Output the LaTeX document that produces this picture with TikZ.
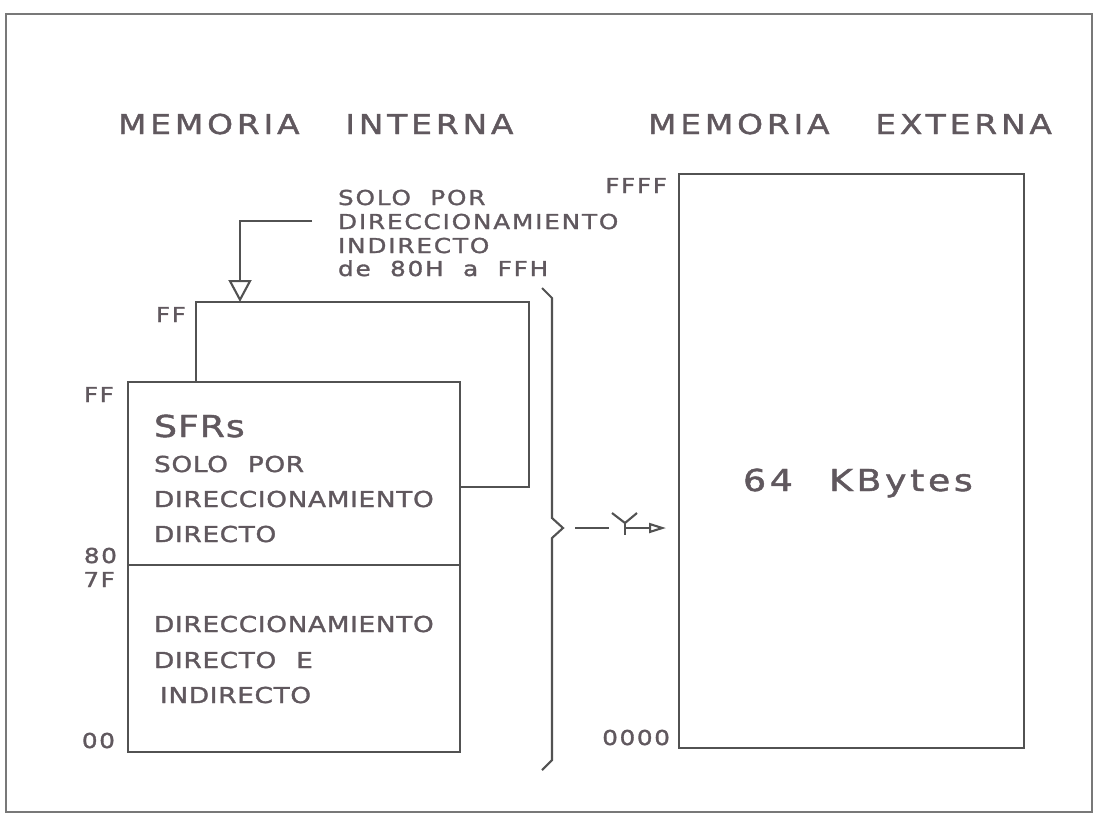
\documentclass[tikz,border=0pt]{standalone}
\usepackage{fontspec}
\setmainfont{DejaVu Sans}
\usepackage{tikz}
\usetikzlibrary{positioning,arrows.meta}
\definecolor{InkGray}{RGB}{96,88,94}
\definecolor{LineGray}{RGB}{82,82,82}
\definecolor{FrameGray}{RGB}{120,120,120}
\newfontfamily\headfont[FakeStretch=1.2,FakeBold=1.5,LetterSpace=14,WordSpace=3.2]{DejaVu Sans}
\newfontfamily\cellfont[FakeStretch=1.2,FakeBold=1.5,LetterSpace=3,WordSpace=2.2]{DejaVu Sans}
\newfontfamily\notefont[FakeStretch=1.2,FakeBold=1.5,LetterSpace=9,WordSpace=2]{DejaVu Sans}
\newfontfamily\addrfont[FakeStretch=1.2,FakeBold=1.5,LetterSpace=8]{DejaVu Sans}
\newfontfamily\sizefont[FakeStretch=1.2,FakeBold=1.5,LetterSpace=12,WordSpace=2.4]{DejaVu Sans}

\begin{document}
\begin{tikzpicture}[x=0.02cm,y=-0.02cm,line width=1.2pt,
    every node/.style={inner sep=0pt,text=InkGray},
    heading/.style={anchor=base west,font=\headfont\fontsize{15.6pt}{18pt}\selectfont},
    celltext/.style={anchor=base west,font=\cellfont\fontsize{12.5pt}{15pt}\selectfont},
    notetext/.style={anchor=base west,font=\notefont\fontsize{11.7pt}{13pt}\selectfont},
    addr/.style={anchor=base east,font=\addrfont\fontsize{11.7pt}{14pt}\selectfont}]
  \path[use as bounding box] (0,0) rectangle (1094,816);
  \draw[FrameGray,line width=1pt] (6,14) rectangle (1092,812);

  % titles
  \node[heading] (inttitle) at (117,134) {MEMORIA INTERNA};
  \node[heading] (exttitle) at (647,134) {MEMORIA EXTERNA};

  % internal memory: lower 128 bytes + SFRs
  \coordinate (lowNW) at (128,382);
  \coordinate (lowSE) at (460,752);
  \draw[LineGray] (lowNW) rectangle (lowSE);
  \draw[LineGray] (128,565) -- (460,565);
  % upper 128 bytes (indirect only)
  \draw[LineGray] (196,382) -- (196,302) -- (529,302) -- (529,487) -- (460,487);

  \node[anchor=base west,font=\cellfont\fontsize{17.2pt}{20pt}\selectfont] (sfr) at (153,437) {SFRs};
  \node[celltext] (sfr1) at (153,472) {SOLO POR};
  \node[celltext] (sfr2) at (153,507) {DIRECCIONAMIENTO};
  \node[celltext] (sfr3) at (153,542) {DIRECTO};
  \node[celltext] (ram1) at (153,632) {DIRECCIONAMIENTO};
  \node[celltext] (ram2) at (153,668) {DIRECTO E};
  \node[celltext] (ram3) at (159,703) {INDIRECTO};

  % addresses
  \node[addr] (ffup) at (187,322) {FF};
  \node[addr] (fflow) at (115,402) {FF};
  \node[addr] (a80) at (118,563) {80};
  \node[addr] (a7f) at (116,587) {7F};
  \node[addr] (a00) at (116,748) {00};

  % note on indirect addressing
  \node[notetext] (note1) at (337,205) {SOLO POR};
  \node[notetext] (note2) at (337,229) {DIRECCIONAMIENTO};
  \node[notetext] (note3) at (337,253) {INDIRECTO};
  \node[notetext] (note4) at (337,276) {de 80H a FFH};
  \coordinate (noteend) at (312,221);
  \coordinate (uptop) at (240,302);
  \draw[LineGray,-{Triangle[open,length=0.44cm,width=0.46cm]}] (noteend) -| (uptop);

  % brace
  \draw[LineGray] (542,288) -- (552,298) -- (552,518) -- (563,528) -- (552,538)
    -- (552,760) -- (542,770);
  \coordinate (forkin) at (575,528);
  \coordinate (forkgap) at (609,528);
  \draw[LineGray] (forkin) -- (forkgap);
  \coordinate (fork) at (625,523);
  \draw[LineGray] (612,513) -- (fork) -- (637,513);
  \draw[LineGray] (fork) -- (625,535);
  \coordinate (forkout) at (625,528);
  \coordinate (extin) at (666,528);
  \draw[LineGray,-{Triangle[open,length=0.34cm,width=0.2cm]}] (forkout) -- (extin);

  % external memory
  \draw[LineGray] (679,174) rectangle (1024,748);
  \node[addr] (affff) at (668,193) {FFFF};
  \node[addr] (a0000) at (671,745) {0000};
  \node[anchor=base west,font=\sizefont\fontsize{17.2pt}{20pt}\selectfont] (size) at (742,491) {64 KBytes};
\end{tikzpicture}
\end{document}
